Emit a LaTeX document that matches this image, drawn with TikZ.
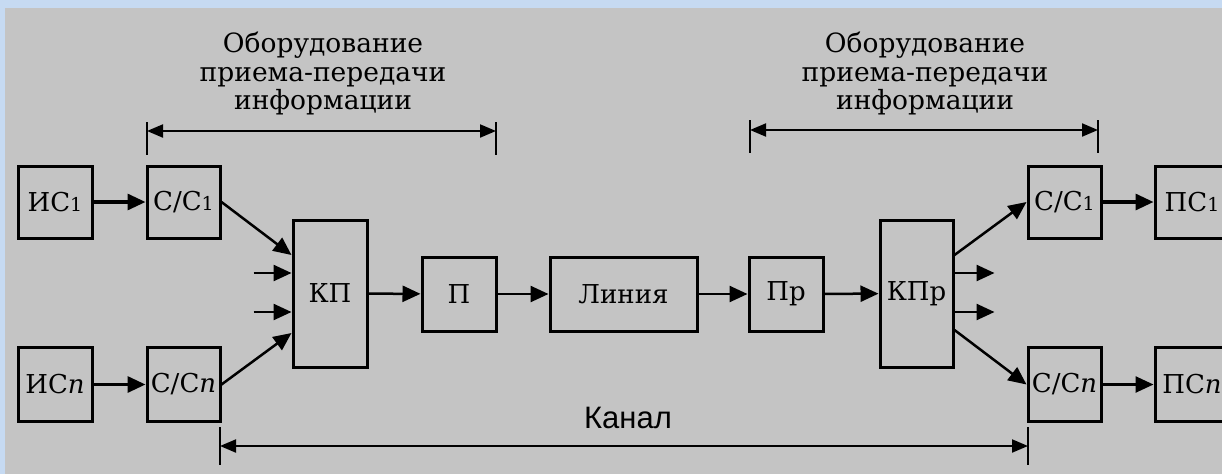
\documentclass[tikz,border=0pt]{standalone}
\usepackage{fontspec}
\setmainfont{DejaVu Serif}
\newfontfamily\kanalfont{Liberation Sans}
\usetikzlibrary{arrows.meta}
\definecolor{bggray}{RGB}{196,196,196}
\definecolor{frameblue}{RGB}{198,218,242}
\newcommand\subone{{\fontsize{19}{19}\selectfont 1}}
\begin{document}
\begin{tikzpicture}[x=1pt,y=-1pt,
  blk/.style={draw, line width=3pt, minimum width=73pt, minimum height=72pt, inner sep=0pt, font=\fontsize{26}{28}\selectfont},
  tallblk/.style={blk, minimum height=147pt},
  wideblk/.style={blk, minimum width=147pt},
  arr/.style={line width=2.5pt, -{Triangle[length=18pt,width=16pt]}},
  thickarr/.style={line width=3.2pt, -{Triangle[length=18pt,width=16pt]}},
  dim/.style={line width=2pt, {Triangle[length=16pt,width=13pt]}-{Triangle[length=16pt,width=13pt]}},
  tick/.style={line width=2pt},
  hdr/.style={align=center, inner sep=0pt, anchor=north, font=\fontsize{26.5}{28.5}\selectfont}
]
\path[use as bounding box] (0,0) rectangle (1222,474);
\clip (0,0) rectangle (1222,474);
\fill[bggray] (0,0) rectangle (1222,474);
\fill[frameblue] (0,0) rectangle (1222,8);
\fill[frameblue] (0,0) rectangle (5,474);

% blocks
\node[blk, minimum width=74pt] (is1) at (55,202) {ИС\subone};
\node[blk] (ss1) at (183.5,202) {С/С\subone};
\node[blk, minimum width=74pt, minimum height=74pt] (isn) at (55,384.5) {ИС\textit{n}};
\node[blk, minimum height=74pt] (ssn) at (183.5,384.5) {С/С\textit{n}};
\node[tallblk, minimum width=74pt] (kp) at (330,293.5) {КП};
\node[blk, minimum width=74pt, minimum height=74pt] (p) at (459,294) {П};
\node[wideblk, minimum height=74pt] (line) at (623.5,294) {Линия};
\node[blk, minimum width=74pt, minimum height=74pt] (pr) at (786,294) {Пр};
\node[tallblk] (kpr) at (916.5,293.5) {КПр};
\node[blk] (ss1r) at (1064.5,202) {С/С\subone};
\node[blk, minimum height=74pt] (ssnr) at (1064.5,384.5) {С/С\textit{n}};
\node[blk, minimum width=74pt] (ps1) at (1192,202) {ПС\subone};
\node[blk, minimum width=74pt, minimum height=74pt] (psn) at (1192,384.5) {ПС\textit{n}};

% connectors
\draw[thickarr] (is1) -- (ss1);
\draw[thickarr] (isn) -- (ssn);
\draw[arr] (ss1.east) -- ([yshift=38.5pt]kp.west);
\draw[arr] ([xshift=-38pt,yshift=20.5pt]kp.west) -- ([yshift=20.5pt]kp.west);
\draw[arr] ([xshift=-38pt,yshift=-18.5pt]kp.west) -- ([yshift=-18.5pt]kp.west);
\draw[arr] (ssn.east) -- ([yshift=-39.5pt]kp.west);
\draw[arr] (kp) -- (p);
\draw[arr] (p) -- (line);
\draw[arr] (line) -- (pr);
\draw[arr] (pr) -- (kpr);
\draw[arr] ([yshift=38.5pt]kpr.east) -- (ss1r.west);
\draw[arr] ([yshift=20.5pt]kpr.east) -- ([xshift=40pt,yshift=20.5pt]kpr.east);
\draw[arr] ([yshift=-18.5pt]kpr.east) -- ([xshift=40pt,yshift=-18.5pt]kpr.east);
\draw[arr] ([yshift=-36.5pt]kpr.east) -- (ssnr.west);
\draw[thickarr] (ss1r) -- (ps1);
\draw[arr] (ssnr) -- (psn);

% dimension lines
\coordinate (d1l) at (147,131);
\coordinate (d1r) at (496,131);
\coordinate (d2l) at (750,130);
\coordinate (d2r) at (1098,130);
\coordinate (d3l) at (220,446);
\coordinate (d3r) at (1028,446);
\draw[dim] (d1l) -- (d1r);
\draw[tick] (147,122) -- (147,155);
\draw[tick] (496,122) -- (496,155);
\draw[dim] (d2l) -- (d2r);
\draw[tick] (750,120) -- (750,153);
\draw[tick] (1098,120) -- (1098,153);
\draw[dim] (d3l) -- (d3r);
\draw[tick] (220,427) -- (220,465);
\draw[tick] (1028,427) -- (1028,465);

% labels
\node[hdr] (h1) at (323,32) {Оборудование\\приема-передачи\\информации};
\node[hdr] (h2) at (925,32) {Оборудование\\приема-передачи\\информации};
\node[inner sep=0pt, anchor=base, font=\kanalfont\fontsize{31}{31}\selectfont] (kanal) at (628,428) {Канал};
\end{tikzpicture}
\end{document}
